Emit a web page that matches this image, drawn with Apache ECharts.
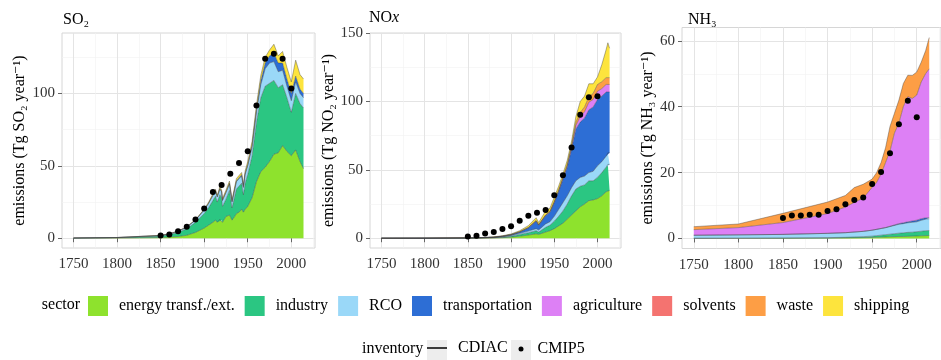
<!DOCTYPE html>
<html><head><meta charset="utf-8">
<script src="https://cdn.jsdelivr.net/npm/echarts@6/dist/echarts.min.js"></script>
<style>html,body{margin:0;padding:0;background:#fff}#c{width:941px;height:360px}</style>
</head><body><div id="c"></div>
<script>
// ---------------- DATA ----------------
const sectors = ['energy transf./ext.', 'industry', 'RCO', 'transportation', 'agriculture', 'solvents', 'waste', 'shipping'];
const xTicks = [1750, 1800, 1850, 1900, 1950, 2000];

// SO2 (Tg SO2 / year)
const so2Years = [1750,1800,1850,1860,1870,1880,1890,1900,1905,1910,1913,1915,1918,1920,1921,1925,1929,1932,1935,1937,1940,1943,1945,1947,1950,1955,1960,1965,1970,1975,1980,1985,1990,1995,2000,2005,2010,2014];
const so2Energy    = [0.05,0.1,0.5,0.8,1.2,2,4,7,9,11,12.5,11,13,12.5,11,15,16,12.5,15,17,18,20,18,20,22,28,39,46,49,53,58,59,64,60,57,61,53,48];
const so2Industry  = [0.1,0.3,1.0,1.7,2.8,4.5,7,10,12,15,16.5,14,17,15.5,11,12,17,8.5,14,17,18,18,12,18,22,29,41,51,56,54,51,45,42,37,30,39,40,42];
const so2RCO       = [0.05,0.1,0.4,0.5,0.8,1.2,1.5,2.5,3,3.5,3.5,3.5,4,4,4,4.5,4.5,4,4.5,5,5,5,5,6,6,6,7,9,12,14,13,11,10,8,8,8,7,7];
const so2Transport = [0,0,0,0,0,0,0.05,0.1,0.15,0.2,0.2,0.2,0.3,0.3,0.3,0.4,0.5,0.5,0.6,0.7,0.8,0.9,0.8,0.9,1,1.5,2,3,4,5,6,6,5,5,5,4,3,3];
const so2Shipping  = [0,0,0.1,0.15,0.2,0.25,0.3,0.5,0.7,1,1.1,1,1.2,1.2,1.1,1.3,1.5,1.2,1.4,1.5,1.5,1.5,1.2,1.6,2,2.5,3,3.5,4,4,6,5,8,8,8,11,10,10];
const so2Ticks = [0, 50, 100];
const so2Minor = [25, 75, 125];

// NOx (Tg NO2 / year)
const noxYears = [1750,1800,1850,1860,1870,1880,1890,1900,1910,1920,1929,1932,1940,1945,1950,1955,1960,1965,1970,1975,1980,1985,1990,1995,2000,2005,2010,2012,2014];
const noxEnergy      = [0.01,0.02,0.05,0.08,0.12,0.2,0.4,0.8,1.5,2.3,3.2,2.8,4.5,5.5,7,9,11,14,17,20,23,25,27.5,28,29,31,34,35,35];
const noxIndustry    = [0.01,0.02,0.05,0.07,0.13,0.2,0.4,0.7,1.3,1.7,2.3,1.7,3.5,4,5.5,7,9,11,14,16,15,14,14.5,14,15.5,17,18,19,19];
const noxRCO         = [0.01,0.02,0.05,0.05,0.1,0.15,0.2,0.5,0.8,1.2,1.5,1.5,2.5,2.5,3.5,5,6,6,6,6,6.5,6.5,6,7,8.5,8,8,8.5,8.5];
const noxTransport   = [0.01,0.02,0.05,0.1,0.1,0.2,0.4,0.5,0.9,2.3,5.5,3.5,6,7,10,13,17,21,28,38,40.5,42.5,46,47,48.5,48,47,45.5,44.5];
const noxAgriculture = [0,0,0.05,0.05,0.05,0.05,0.08,0.1,0.15,0.2,0.25,0.25,0.3,0.35,0.5,0.6,0.8,1,1.5,2.5,4,4.5,5.5,5.5,6,5.5,5.5,5.5,5.5];
const noxWaste       = [0,0,0.05,0.05,0.05,0.05,0.08,0.1,0.15,0.2,0.25,0.25,0.3,0.35,0.5,0.6,0.7,1,1.5,2.5,3,3.5,4,4.5,5,5,5,5,5];
const noxShipping    = [0.01,0.02,0.02,0.02,0.05,0.15,0.24,0.4,0.7,1.3,2,1.5,2.9,2.3,3,2.8,2.5,3,3,4,8,8,9.5,7,5.5,12.5,20.5,24.5,21.5];
const noxTicks = [0, 50, 100, 150];
const noxMinor = [25, 75, 125];

// NH3 (Tg NH3 / year)
const nh3Years = [1750,1800,1850,1900,1920,1930,1940,1950,1955,1960,1965,1970,1975,1980,1985,1990,1995,2000,2005,2010,2014];
const nh3Energy      = [0.02,0.03,0.05,0.1,0.15,0.2,0.25,0.3,0.35,0.4,0.45,0.5,0.55,0.6,0.6,0.65,0.7,0.75,0.8,0.85,0.9];
const nh3Industry    = [0.05,0.06,0.08,0.15,0.2,0.25,0.3,0.4,0.5,0.6,0.7,0.8,0.9,1,1.1,1.2,1.2,1.3,1.4,1.5,1.5];
const nh3RCO         = [0.9,1,1.1,1.3,1.4,1.5,1.6,1.8,1.9,2,2.1,2.3,2.5,2.7,2.8,2.9,3,3,3.3,3.5,3.6];
const nh3Transport   = [0,0,0,0,0,0,0.01,0.02,0.03,0.05,0.07,0.1,0.15,0.2,0.25,0.3,0.4,0.5,0.5,0.4,0.3];
const nh3Agriculture = [1.7,2.2,3.6,6,7.8,9,10.1,13,14.2,16.5,19.7,22.8,27.9,30.5,35.3,38,37.2,38,41.5,43.8,45.2];
const nh3Waste       = [0.9,1.1,2.8,3.5,3.5,4.5,4.2,2.5,3,3.5,4.5,7.5,6,7,7,6.5,7,7,6,7,9.5];
const nh3Ticks = [0, 20, 40, 60];
const nh3Minor = [10, 30, 50];

// CMIP5 inventory points
const cmipYears = [1850,1860,1870,1880,1890,1900,1910,1920,1930,1940,1950,1960,1970,1980,1990,2000];
const so2Cmip5 = [1.9,2.5,4.8,8,13,20.6,32,36.7,44.5,52,60,91.7,124,127.5,124,103.4];
const noxCmip5 = [1.2,1.9,3.4,4.6,6.8,8.7,12.8,16.5,18.7,20.6,31.5,46,66.3,90.3,103.1,103.9];
const nh3Cmip5 = [6.2,7,7,7.2,7.2,8.3,8.9,10.4,11.7,12.4,16.5,20.2,25.9,34.7,41.8,36.8];

// ---------------- STYLE ----------------
const FONT = "'Liberation Serif', 'DejaVu Serif', serif";
const colors = {
  'energy transf./ext.': '#8EE22D',
  'industry': '#2BC682',
  'RCO': '#9AD8F8',
  'transportation': '#2D6ED5',
  'agriculture': '#DD80F5',
  'solvents': '#F47370',
  'waste': '#FD9E45',
  'shipping': '#FDE43D'
};
const xMinorTicks = [1775, 1825, 1875, 1925, 1975, 2025];
const X_MIN = 1736.8, X_MAX = 2027.2;

const panels = [
  { title: 'SO₂', yName: 'emissions (Tg SO₂ year⁻¹)', nameGap: 34,
    grid: {left: 62, top: 33, width: 253, height: 215}, yMin: -6.75, yMax: 141.75,
    ticks: so2Ticks, minor: so2Minor, years: so2Years,
    layers: {'energy transf./ext.': so2Energy, 'industry': so2Industry, 'RCO': so2RCO, 'transportation': so2Transport, 'shipping': so2Shipping},
    cmip: so2Cmip5, titlePos: {left: 63, top: 12} },
  { title: '{a|NO}{b|x}', yName: 'emissions (Tg NO₂ year⁻¹)', nameGap: 30,
    grid: {left: 370, top: 33, width: 251, height: 215}, yMin: -7.15, yMax: 150.15,
    ticks: noxTicks, minor: noxMinor, years: noxYears,
    layers: {'energy transf./ext.': noxEnergy, 'industry': noxIndustry, 'RCO': noxRCO, 'transportation': noxTransport, 'agriculture': noxAgriculture, 'waste': noxWaste, 'shipping': noxShipping},
    cmip: noxCmip5, titlePos: {left: 369, top: 10} },
  { title: 'NH₃', yName: 'emissions (Tg NH₃ year⁻¹)', nameGap: 25,
    grid: {left: 682, top: 27.5, width: 263, height: 221}, yMin: -3.05, yMax: 64.05,
    ticks: nh3Ticks, minor: nh3Minor, years: nh3Years,
    layers: {'energy transf./ext.': nh3Energy, 'industry': nh3Industry, 'RCO': nh3RCO, 'transportation': nh3Transport, 'agriculture': nh3Agriculture, 'waste': nh3Waste},
    cmip: nh3Cmip5, titlePos: {left: 688, top: 12} }
];

const plain = v => String(v);
const grids = [], xAxes = [], yAxes = [], series = [], titles = [];
panels.forEach((p, i) => {
  grids.push(Object.assign({show: true, borderColor: '#D6D6D6', borderWidth: 1, backgroundColor: '#fff', containLabel: false}, p.grid));
  const tickStyle = {show: true, length: 4, inside: false, lineStyle: {color: '#666', width: 1}};
  xAxes.push({type: 'value', gridIndex: i, min: X_MIN, max: X_MAX,
    axisLine: {show: false},
    axisTick: Object.assign({customValues: xTicks}, tickStyle),
    axisLabel: {customValues: xTicks, formatter: plain, margin: 9, fontFamily: FONT, fontSize: 15, color: '#333'},
    splitLine: {show: true, lineStyle: {color: '#E4E4E4', width: 1}}});
  xAxes.push({type: 'value', gridIndex: i, min: X_MIN, max: X_MAX, position: 'bottom',
    axisLine: {show: false}, axisLabel: {show: false},
    axisTick: {show: false, customValues: xMinorTicks},
    splitLine: {show: true, lineStyle: {color: '#F1F1F1', width: 0.6}}});
  yAxes.push({type: 'value', gridIndex: i, min: p.yMin, max: p.yMax,
    name: p.yName, nameLocation: 'middle', nameGap: p.nameGap,
    nameTextStyle: {fontFamily: FONT, fontSize: 16, color: '#000'},
    axisLine: {show: false},
    axisTick: Object.assign({customValues: p.ticks}, tickStyle),
    axisLabel: {customValues: p.ticks, formatter: plain, margin: 7, fontFamily: FONT, fontSize: 15, color: '#333'},
    splitLine: {show: true, lineStyle: {color: '#E4E4E4', width: 1}}});
  yAxes.push({type: 'value', gridIndex: i, min: p.yMin, max: p.yMax, position: 'left',
    axisLine: {show: false}, axisLabel: {show: false},
    axisTick: {show: false, customValues: p.minor},
    splitLine: {show: true, lineStyle: {color: '#F1F1F1', width: 0.6}}});

  sectors.forEach(s => {
    const vals = p.layers[s];
    if (!vals) return;
    series.push({
      type: 'line', name: s, xAxisIndex: 2 * i, yAxisIndex: 2 * i, stack: 'panel' + i,
      // value first so that stacking acts on the y dimension
      data: p.years.map((y, k) => [vals[k], y]),
      encode: {x: 1, y: 0},
      symbol: 'none', showSymbol: false, smooth: false,
      color: colors[s],
      itemStyle: {color: colors[s]},
      lineStyle: {color: 'rgba(60,60,60,0.8)', width: 0.5},
      areaStyle: {color: colors[s], opacity: 1},
      emphasis: {disabled: true}, z: 2
    });
  });
  series.push({
    type: 'scatter', name: 'CMIP5', xAxisIndex: 2 * i, yAxisIndex: 2 * i,
    data: cmipYears.map((y, k) => [y, p.cmip[k]]),
    symbol: 'circle', symbolSize: 6, itemStyle: {color: '#000', opacity: 1}, z: 5,
    emphasis: {disabled: true}
  });
  titles.push({
    text: p.title, left: p.titlePos.left, top: p.titlePos.top, padding: 0,
    textStyle: {fontFamily: FONT, fontSize: 16, fontWeight: 'normal', color: '#000',
      rich: {a: {fontFamily: FONT, fontSize: 16, color: '#000'}, b: {fontFamily: FONT, fontSize: 16, fontStyle: 'italic', color: '#000'}}}
  });
});

// legend-only series
series.push({type: 'line', name: 'solvents', xAxisIndex: 2, yAxisIndex: 2, data: [],
  itemStyle: {color: colors['solvents']}, color: colors['solvents'], symbol: 'none'});
series.push({type: 'line', name: 'CDIAC', xAxisIndex: 0, yAxisIndex: 0, data: [],
  symbol: 'none', itemStyle: {color: '#000'}, lineStyle: {color: '#000', width: 1.5}});

const legendText = {fontFamily: FONT, fontSize: 16, color: '#000'};
const option = {
  animation: false,
  backgroundColor: '#fff',
  title: titles,
  grid: grids,
  xAxis: xAxes,
  yAxis: yAxes,
  series: series,
  legend: [
    {left: 88, top: 296, padding: 0, itemWidth: 20, itemHeight: 20, itemGap: 10, icon: 'rect',
      selectedMode: false, data: sectors, itemStyle: {borderWidth: 0},
      textStyle: Object.assign({padding: [0, 0, 0, 6]}, legendText)},
    {left: 427, top: 340, padding: 0, itemWidth: 20, itemHeight: 20, selectedMode: false,
      data: [{name: 'CDIAC', icon: 'path://M0,0 L40,0 L40,3 L0,3 Z'}],
      itemStyle: {color: '#000', borderWidth: 0},
      textStyle: Object.assign({padding: [0, 0, 0, 6]}, legendText)},
    {left: 518.5, top: 341, padding: 0, itemWidth: 5, itemHeight: 5, selectedMode: false,
      data: [{name: 'CMIP5', icon: 'circle'}], itemStyle: {color: '#000', opacity: 1},
      textStyle: Object.assign({padding: [0, 0, 0, 9]}, legendText)}
  ],
  graphic: [
    {type: 'text', right: 941 - 80, top: 297, style: {text: 'sector', font: "16px 'Liberation Serif', serif", fill: '#000'}},
    {type: 'text', left: 362, top: 341, style: {text: 'inventory', font: "16px 'Liberation Serif', serif", fill: '#000'}},
    {type: 'rect', left: 427, top: 340, z: -1, shape: {width: 20, height: 20}, style: {fill: '#EDEDED'}},
    {type: 'rect', left: 511, top: 340, z: -1, shape: {width: 20, height: 20}, style: {fill: '#EDEDED'}}
  ]
};

const chart = echarts.init(document.getElementById('c'), null, {renderer: 'canvas'});
chart.setOption(option);
</script></body></html>
